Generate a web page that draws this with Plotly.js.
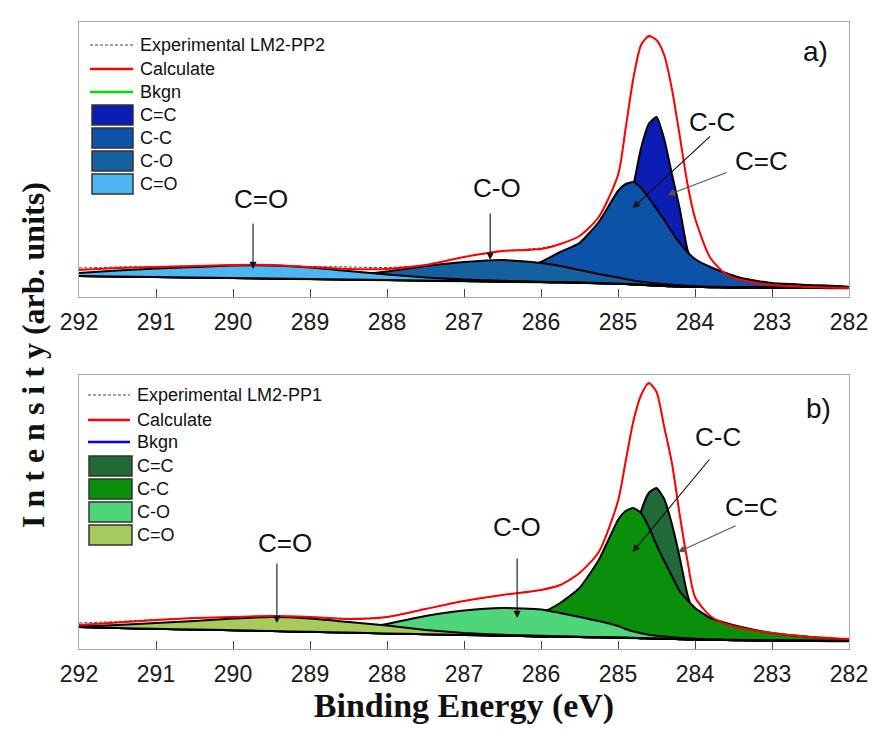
<!DOCTYPE html>
<html><head><meta charset="utf-8">
<script src="https://cdn.plot.ly/plotly-3.0.1.min.js"></script>
<style>html,body{margin:0;padding:0;background:#fff}#chart{width:872px;height:731px}</style>
</head><body><div id="chart"></div>
<script>
// ---- data (binding energy grid, eV) ----
const energy = [292, 291.5, 291, 290.5, 290, 289.5, 289, 288.5, 288, 287.5, 287, 286.5, 286, 285.75, 285.5, 285.25, 285, 284.9, 284.8, 284.7, 284.6, 284.5, 284.4, 284.3, 284.2, 284.1, 284, 283.8, 283.6, 283.4, 283, 282.5, 282];

// panel a) LM2-PP2
const expA  = [28, 29, 29.5, 30, 31, 31, 29.5, 29, 28.5, 31, 39, 45, 48, 52, 60, 79, 121, 168, 218, 252, 259, 256, 241, 207, 161, 113, 78, 38, 22, 16, 11, 9, 8];
const calcA = [26, 28, 29, 30, 31, 31, 29, 27, 27, 31, 39, 45, 47, 52, 60, 79, 121, 168, 218, 251, 260, 256, 241, 207, 161, 113, 78, 38, 22, 16, 11, 9, 8];
const bkgA  = [20, 19.5, 19, 18.5, 18, 17.5, 17, 16.5, 16, 15.5, 15, 14.5, 14, 13.7, 13.3, 12.8, 12.2, 11.9, 11.6, 11.2, 10.8, 10.4, 10, 9.7, 9.4, 9.2, 9, 8.8, 8.6, 8.5, 8.3, 8.1, 8];
const ccDoubleA = [20.1, 19.6, 19.1, 18.6, 18.1, 17.6, 17.1, 16.6, 16.1, 15.7, 15.3, 15, 15, 16, 18, 24, 40, 68, 110, 148, 172, 179, 157, 122, 88, 47, 27, 14, 10.5, 9.3, 8.6, 8.3, 8.1];
const ccSingleA = [20.3, 19.8, 19.3, 18.8, 18.4, 18, 17.6, 17.3, 17, 17, 18, 22, 34, 44, 53, 74, 105, 112, 114, 108, 98, 87, 76, 64, 53, 44, 37, 29, 23, 18, 13, 11, 9];
const coSingleA = [20.2, 19.7, 19.2, 18.8, 18.4, 18.2, 18.6, 20.5, 24.5, 30, 34, 36, 33, 30, 26, 22, 18.5, 17, 15.5, 14.3, 13.3, 12.5, 11.8, 11.2, 10.7, 10.2, 9.8, 9.3, 9, 8.8, 8.5, 8.2, 8.1];
const coDoubleA = [23, 25.5, 27.5, 29, 30.5, 30.5, 28.5, 25, 21.5, 18.5, 16.5, 15.2, 14.3, 13.9, 13.4, 12.9, 12.3, 12, 11.7, 11.3, 10.9, 10.5, 10.1, 9.8, 9.5, 9.3, 9.1, 8.9, 8.7, 8.6, 8.4, 8.2, 8.1];

// panel b) LM2-PP1
const expB  = [26, 27.5, 29.5, 31, 32, 33, 32, 30.5, 32, 40, 48, 54, 59, 64, 76, 97, 148, 188, 228, 254, 265, 257, 222, 186, 135, 89, 52, 33, 25, 21, 16, 12, 10];
const calcB = [24, 26.5, 29, 31, 32, 33, 32, 30, 32, 40, 48, 54, 59, 64, 76, 97, 148, 188, 228, 254, 266, 257, 222, 186, 135, 89, 52, 33, 25, 21, 16, 12, 10];
const bkgB  = [22, 21, 20.2, 19.5, 18.8, 18, 17.2, 16.4, 15.6, 14.8, 14, 13.3, 12.6, 12.3, 12, 11.7, 11.4, 11.2, 11, 10.8, 10.6, 10.4, 10.2, 10, 9.8, 9.6, 9.4, 9.1, 8.9, 8.7, 8.5, 8.2, 8];
const ccDoubleB = [22.1, 21.1, 20.3, 19.6, 18.9, 18.1, 17.3, 16.5, 15.7, 14.9, 14.1, 13.5, 13.2, 13.6, 15, 19, 35, 68, 108, 138, 156, 161, 150, 125, 92, 55, 33, 16, 12, 10.5, 9, 8.5, 8.1];
const ccSingleB = [22.2, 21.2, 20.4, 19.7, 19, 18.2, 17.4, 16.6, 16, 15.6, 17, 24, 36, 46, 61, 89, 129, 138, 141, 136, 122, 104, 88, 73, 58, 49, 41, 31, 26, 22, 16, 12, 9];
const coSingleB = [22.2, 21.2, 20.4, 19.7, 19, 18.5, 18.5, 20, 25, 33, 38.5, 41, 39.5, 36, 32, 28, 23, 20, 17.5, 15.8, 14.3, 13.2, 12.5, 11.8, 11.2, 10.7, 10.3, 9.7, 9.3, 9, 8.7, 8.3, 8.1];
const coDoubleB = [22.5, 24, 26, 28, 30.5, 32, 30.5, 27, 23.5, 19, 16, 14.2, 13.2, 12.7, 12.3, 11.9, 11.6, 11.4, 11.2, 11, 10.8, 10.6, 10.4, 10.2, 10, 9.8, 9.6, 9.3, 9.1, 8.9, 8.6, 8.3, 8.1];

const peakNames = ['C=C', 'C-C', 'C-O', 'C=O'];
const legendLabelsA = ['Experimental LM2-PP2', 'Calculate', 'Bkgn', 'C=C', 'C-C', 'C-O', 'C=O'];
const legendLabelsB = ['Experimental LM2-PP1', 'Calculate', 'Bkgn', 'C=C', 'C-C', 'C-O', 'C=O'];
const tickValues = [292, 291, 290, 289, 288, 287, 286, 285, 284, 283, 282];

// ---- styles ----
const colorsA = ['#0b1db3', '#0c52a7', '#15619f', '#4db6f2'];
const colorsB = ['#1f6a36', '#0a8f0a', '#4fd57a', '#a6cb5b'];
const bkgColorA = '#00dd00', bkgColorB = '#0000ff';

// plot area in px: x 79..849, y 22..649
const PX = {l: 79, r: 849, t: 22, b: 649};
const px2x = p => (p - PX.l) / (PX.r - PX.l);
const px2y = p => (PX.b - p) / (PX.b - PX.t);

function polygon(vals, bg) {
  return {
    x: energy.concat(energy.slice().reverse()),
    y: vals.concat(bg.slice().reverse())
  };
}

function panelTraces(xa, ya, peaks, bg, exp, calc, colors, bkgColor) {
  const tr = [];
  tr.push({x: energy, y: bg, mode: 'lines', line: {color: bkgColor, width: 2}, xaxis: xa, yaxis: ya, hoverinfo: 'skip', name: 'Bkgn'});
  peaks.forEach((p, i) => {
    const pg = polygon(p, bg);
    tr.push({x: pg.x, y: pg.y, mode: 'lines', fill: 'toself', fillcolor: colors[i],
      line: {color: '#000', width: 2, shape: 'spline', smoothing: 0.5}, xaxis: xa, yaxis: ya, hoverinfo: 'skip', name: peakNames[i]});
  });
  tr.push({x: energy, y: exp, mode: 'lines', line: {color: '#444', width: 1, dash: '3px,2px', shape: 'spline', smoothing: 0.7},
    xaxis: xa, yaxis: ya, hoverinfo: 'skip', name: 'Experimental'});
  tr.push({x: energy, y: calc, mode: 'lines', line: {color: '#ff0000', width: 2, shape: 'spline', smoothing: 0.7},
    xaxis: xa, yaxis: ya, hoverinfo: 'skip', name: 'Calculate'});
  return tr;
}

const traces = [].concat(
  panelTraces('x', 'y', [ccDoubleA, ccSingleA, coSingleA, coDoubleA], bkgA, expA, calcA, colorsA, bkgColorA),
  panelTraces('x2', 'y2', [ccDoubleB, ccSingleB, coSingleB, coDoubleB], bkgB, expB, calcB, colorsB, bkgColorB)
);

// ---- manual legends ----
const shapes = [];
const annotations = [];
function buildLegend(labels, rows, lineX, boxX, textX, colors, bkgColor) {
  shapes.push({type: 'line', xref: 'paper', yref: 'paper', x0: px2x(lineX[0]), x1: px2x(lineX[1]), y0: px2y(rows[0]), y1: px2y(rows[0]),
    line: {color: '#444', width: 1, dash: '3px,2px'}});
  shapes.push({type: 'line', xref: 'paper', yref: 'paper', x0: px2x(lineX[0]), x1: px2x(lineX[1]), y0: px2y(rows[1]), y1: px2y(rows[1]),
    line: {color: '#ff0000', width: 2.5}});
  shapes.push({type: 'line', xref: 'paper', yref: 'paper', x0: px2x(lineX[0]), x1: px2x(lineX[1]), y0: px2y(rows[2]), y1: px2y(rows[2]),
    line: {color: bkgColor, width: 2.5}});
  for (let i = 0; i < 4; i++) {
    const r = rows[3 + i];
    shapes.push({type: 'rect', xref: 'paper', yref: 'paper', x0: px2x(boxX[0]), x1: px2x(boxX[1]), y0: px2y(r + 10), y1: px2y(r - 10),
      fillcolor: colors[i], line: {color: '#333', width: 1.5}});
  }
  labels.forEach((t, i) => {
    annotations.push({xref: 'paper', yref: 'paper', x: px2x(textX), y: px2y(rows[i]), xanchor: 'left', yanchor: 'middle',
      text: t, showarrow: false, font: {family: 'Arial, Liberation Sans, sans-serif', size: 18, color: '#111'}});
  });
}
buildLegend(legendLabelsA, [45, 69, 92, 115, 138, 161, 184], [90, 133], [92, 133], 138, colorsA, bkgColorA);
buildLegend(legendLabelsB, [395, 420, 442, 466, 489, 512, 535], [88, 130], [89, 132], 135, colorsB, bkgColorB);

// ---- peak labels and arrows ----
const labFont = {family: 'Arial, Liberation Sans, sans-serif', size: 26, color: '#111'};
function label(xa, ya, x, y, t, size) {
  annotations.push({xref: xa, yref: ya, x: x, y: y, text: t, showarrow: false, xanchor: 'center', yanchor: 'middle',
    font: Object.assign({}, labFont, size ? {size: size} : {})});
}
function arrow(xa, ya, x, y, ax, ay, col) {
  annotations.push({xref: xa, yref: ya, x: x, y: y, ax: ax, ay: ay, text: '', showarrow: true,
    arrowhead: 2, arrowsize: 1.3, arrowwidth: 1.1, arrowcolor: col || '#111'});
}
// panel a
label('x', 'y', 289.64, 97, 'C=O');  arrow('x', 'y', 289.74, 27, 0, -47);
label('x', 'y', 286.57, 108, 'C-O'); arrow('x', 'y', 286.66, 36, 0, -48);
label('x', 'y', 283.78, 174, 'C-C'); arrow('x', 'y', 284.81, 88, 79, -73);
label('x', 'y', 283.13, 135, 'C=C'); arrow('x', 'y', 284.35, 101, 60, -23, '#555');
label('x', 'y', 282.44, 245, 'a)', 28);
// panel b
label('x2', 'y2', 289.32, 106, 'C=O'); arrow('x2', 'y2', 289.43, 26, 0, -61);
label('x2', 'y2', 286.31, 122, 'C-O'); arrow('x2', 'y2', 286.31, 31, 0, -61);
label('x2', 'y2', 283.70, 212, 'C-C'); arrow('x2', 'y2', 284.81, 97, 78, -94);
label('x2', 'y2', 283.26, 142, 'C=C'); arrow('x2', 'y2', 284.22, 97, 59, -27, '#555');
label('x2', 'y2', 282.40, 241, 'b)', 28);

// y title
annotations.push({xref: 'paper', yref: 'paper', x: px2x(33), y: px2y(355), xanchor: 'center', yanchor: 'middle',
  text: 'I n t e n s i t y (arb. units)', textangle: -90, showarrow: false,
  font: {family: 'Liberation Serif, Times New Roman, serif', size: 32, color: '#111', weight: 'bold'}});

const xBase = {
  range: [292, 282], tickvals: tickValues, ticktext: tickValues.map(String),
  ticks: 'inside', ticklen: 8, tickwidth: 1, tickcolor: '#444',
  showline: true, linecolor: '#aaaaaa', linewidth: 1, mirror: true,
  showgrid: false, zeroline: false,
  tickfont: {family: 'Arial, Liberation Sans, sans-serif', size: 23, color: '#1a1a1a'},
  ticklabelstandoff: 4
};
const yBase = {
  showticklabels: false, ticks: '', showgrid: false, zeroline: false,
  showline: true, linecolor: '#aaaaaa', linewidth: 1, mirror: true
};

const layout = {
  width: 872, height: 731,
  margin: {l: 79, r: 23, t: 22, b: 82},
  paper_bgcolor: '#fff', plot_bgcolor: '#fff',
  showlegend: false,
  xaxis: Object.assign({}, xBase, {anchor: 'y'}),
  xaxis2: Object.assign({}, xBase, {anchor: 'y2', matches: 'x',
    title: {text: 'Binding Energy (eV)', standoff: 6,
      font: {family: 'Liberation Serif, Times New Roman, serif', size: 34, color: '#111', weight: 'bold'}}}),
  yaxis: Object.assign({}, yBase, {domain: [px2y(297), 1], range: [-1, 274]}),
  yaxis2: Object.assign({}, yBase, {domain: [0, px2y(375)], range: [0, 274]}),
  shapes: shapes,
  annotations: annotations
};

Plotly.newPlot('chart', traces, layout, {displayModeBar: false, staticPlot: true});
</script>
</body></html>
